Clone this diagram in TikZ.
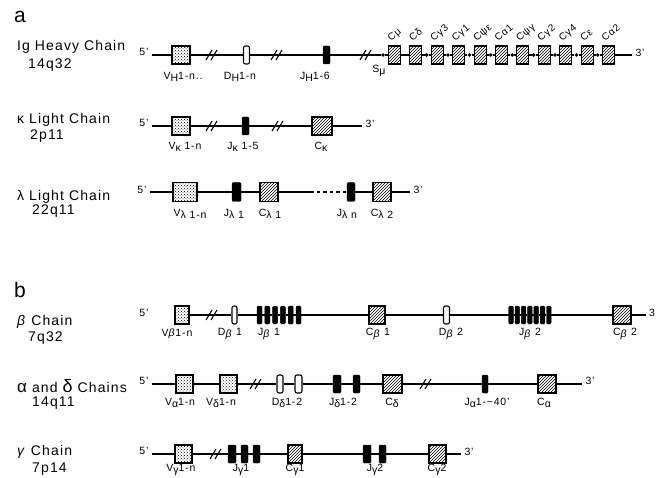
\documentclass[tikz,border=0pt]{standalone}
\usepackage{fontspec}
\setmainfont{Liberation Sans}[LetterSpace=8]
\usetikzlibrary{patterns}
\newcommand\subx[1]{\raisebox{-0.45ex}{#1}}
\begin{document}
\begin{tikzpicture}[x=1pt,y=-1pt,
  bb/.style={line width=1.05pt},
  vbox/.style={draw, line width=1.05pt, preaction={fill=white}, pattern=crosshatch dots, minimum width=18pt, minimum height=18pt, inner sep=0pt},
  cbox/.style={draw, line width=1.05pt, preaction={fill=white}, pattern=north east lines, minimum width=12pt, minimum height=18pt, inner sep=0pt},
  jbar/.style={draw, fill=black, rounded corners=1.2pt, minimum width=7pt, minimum height=18pt, inner sep=0pt},
  dbox/.style={draw, line width=1.05pt, fill=white, rounded corners=2pt, minimum width=6pt, minimum height=18pt, inner sep=0pt},
  bdot/.style={circle, fill=black, inner sep=0pt, minimum size=3.8pt},
  lab/.style={font=\fontsize{10.5}{12}\selectfont, inner sep=0pt},
  clab/.style={font=\fontsize{10}{11}\selectfont, inner sep=0pt, anchor=base west, rotate=40},
  endl/.style={font=\fontsize{10.5}{12}\selectfont, inner sep=3pt},
  chainlab/.style={font=\fontsize{14}{16}\selectfont, anchor=west, inner sep=0pt},
  panel/.style={font=\fontsize{21}{22}\selectfont, anchor=west, inner sep=0pt},
  brk/.pic={\draw[line width=1.05pt] (-6,5) -- (0,-5) (-1,5) -- (5,-5);}
]
\useasboundingbox (0,0) rectangle (660,478);

% ---------- panel a ----------
\node[panel] (pa) at (14,17) {a};

% Ig heavy chain
\node[chainlab] (hl1) at (17,47) {Ig Heavy Chain};
\node[chainlab] (hl2) at (28,65) {14q32};
\node[endl] (h5) at (144,52) {5'};
\node[vbox] (hv) at (181,55) {};
\coordinate (hk1) at (212,55);
\node[dbox] (hd) at (246.5,55) {};
\coordinate (hk2) at (277,55);
\node[jbar] (hj) at (326.5,55) {};
\coordinate (hk3) at (366,55);
\node[bdot] (hs) at (383,55) {};
\foreach \i in {1,...,11} \node[cbox] (hc\i) at ({394.5+21.4*(\i-1)},55) {};
\foreach \i in {3,...,11} \node[bdot] (hp\i) at ({383.8+21.4*(\i-1)},55) {};
\node[endl] (h3) at (640,53) {3'};
\draw[bb] (h5.east |- hv.west) -- (hv) -- (hk1) -- (hd) -- (hk2) -- (hj) -- (hk3) -- (hs) -- (hc1) -- (hc2);
\foreach \i [evaluate=\i as \j using int(\i-1)] in {3,...,11} \draw[bb] (hc\j) -- (hp\i) -- (hc\i);
\draw[bb] (hc11) -- (h3.west |- hc11.east);
\pic at (hk1) {brk};
\pic at (hk2) {brk};
\pic at (hk3) {brk};
\foreach \t [count=\i] in {Cμ,Cδ,Cγ3,Cγ1,Cψε,Cα1,Cψγ,Cγ2,Cγ4,Cε,Cα2}
  \node[clab] (ht\i) at ({391+21.4*(\i-1)},42) {\t};
\node[lab] (hvl) at (183,77) {V\subx{H}1-n..};
\node[lab] (hdl) at (240,77) {D\subx{H}1-n};
\node[lab] (hjl) at (315,77) {J\subx{H}1-6};
\node[lab] (hsl) at (379,71) {S\subx{μ}};

% kappa light chain
\node[chainlab] (kl1) at (17,120) {κ Light Chain};
\node[chainlab] (kl2) at (30,136) {2p11};
\node[endl] (k5) at (144,123) {5'};
\node[vbox] (kv) at (181,126) {};
\coordinate (kk1) at (212,126);
\node[jbar] (kj) at (245.5,126) {};
\coordinate (kk2) at (278,126);
\node[cbox, minimum width=20pt] (kc) at (322,126) {};
\node[endl] (k3) at (370,124) {3'};
\draw[bb] (k5.east |- kv.west) -- (kv) -- (kk1) -- (kj) -- (kk2) -- (kc) -- (k3.west |- kc.east);
\pic at (kk1) {brk};
\pic at (kk2) {brk};
\node[lab] (kvl) at (185,147) {V\subx{κ} 1-n};
\node[lab] (kjl) at (243,147) {J\subx{κ} 1-5};
\node[lab] (kcl) at (321,147) {C\subx{κ}};

% lambda light chain
\node[chainlab] (ll1) at (17,197) {λ Light Chain};
\node[chainlab] (ll2) at (32,211) {22q11};
\node[endl] (l5) at (142,190) {5'};
\node[vbox, minimum width=24pt, minimum height=19pt] (lv) at (185,192) {};
\node[jbar, minimum width=9pt, minimum height=19pt] (lj1) at (236.5,192) {};
\node[cbox, minimum width=18pt, minimum height=19pt] (lc1) at (269,192) {};
\coordinate (ldash) at (310,192);
\node[jbar, minimum width=8pt, minimum height=19pt] (ljn) at (351,192) {};
\node[cbox, minimum width=18pt, minimum height=19pt] (lc2) at (382,192) {};
\node[endl] (l3) at (418,190) {3'};
\draw[bb] (l5.east |- lv.west) -- (lv) -- (lj1) -- (lc1) -- (ldash);
\draw[bb, dash pattern=on 3.5pt off 3pt] (ldash) -- (ljn);
\draw[bb] (ljn) -- (lc2) -- (l3.west |- lc2.east);
\node[lab] (lvl) at (190,214) {V\subx{λ 1-n}};
\node[lab] (lj1l) at (234,214) {J\subx{λ 1}};
\node[lab] (lc1l) at (270,214) {C\subx{λ 1}};
\node[lab] (ljnl) at (347,214) {J\subx{λ n}};
\node[lab] (lc2l) at (382,214) {C\subx{λ 2}};

% ---------- panel b ----------
\node[panel] (pb) at (14,290) {b};

% beta chain
\node[chainlab] (bl1) at (17,322) {\textit{β} Chain};
\node[chainlab] (bl2) at (28,338) {7q32};
\node[endl] (b5) at (144,313) {5'};
\node[vbox, minimum width=14pt] (bv) at (182,315) {};
\coordinate (bk1) at (212,315);
\node[dbox, minimum width=5pt] (bd1) at (234.5,315) {};
\foreach \i in {1,...,6} \node[jbar, minimum width=5pt] (bja\i) at ({259.5+7.8*(\i-1)},315) {};
\node[cbox, minimum width=16pt] (bc1) at (377,315) {};
\node[dbox] (bd2) at (446.5,315) {};
\foreach \i in {1,...,7} \node[jbar, minimum width=4.6pt] (bjb\i) at ({511+6.3*(\i-1)},315) {};
\node[cbox, minimum width=18pt] (bc2) at (622,315) {};
\node[endl] (b3) at (652,313) {3};
\draw[bb] (bv) -- (bk1) -- (bd1) -- (bja1);
\foreach \i [evaluate=\i as \j using int(\i-1)] in {2,...,6} \draw[bb] (bja\j) -- (bja\i);
\draw[bb] (bja6) -- (bc1) -- (bd2) -- (bjb1);
\foreach \i [evaluate=\i as \j using int(\i-1)] in {2,...,7} \draw[bb] (bjb\j) -- (bjb\i);
\draw[bb] (bjb7) -- (bc2) -- (b3.west |- bc2.east);
\pic at (bk1) {brk};
\node[lab] (bvl) at (177,334) {V\textit{β}1-n};
\node[lab] (bd1l) at (230,334) {D\subx{\textit{β}} 1};
\node[lab] (bj1l) at (269,334) {J\subx{\textit{β}} 1};
\node[lab] (bc1l) at (378,334) {C\subx{\textit{β}} 1};
\node[lab] (bd2l) at (451,334) {D\subx{\textit{β}} 2};
\node[lab] (bj2l) at (530,334) {J\subx{\textit{β}} 2};
\node[lab] (bc2l) at (625,334) {C\subx{\textit{β}} 2};

% alpha and delta chains
\node[chainlab] (al1) at (17,386) {{\fontsize{17}{17}\selectfont α} and {\fontsize{18}{18}\selectfont δ} Chains};
\node[chainlab] (al2) at (32,403) {14q11};
\node[endl] (a5) at (144,381) {5'};
\node[vbox, minimum width=17pt] (av) at (184.5,384) {};
\node[vbox, minimum width=17pt, pattern color=black!85] (adv) at (228.5,384) {};
\coordinate (ak1) at (256,384);
\node[dbox] (ad1) at (280,384) {};
\node[dbox, minimum width=7pt] (ad2) at (298.5,384) {};
\node[jbar, minimum width=8pt] (aj1) at (337,384) {};
\node[jbar] (aj2) at (356.5,384) {};
\node[cbox, minimum width=19pt] (acd) at (392.5,384) {};
\coordinate (ak2) at (426,384);
\node[jbar, minimum width=6pt] (aja) at (485,384) {};
\node[cbox, minimum width=18pt] (aca) at (547,384) {};
\node[endl] (a3) at (590,381) {3'};
\draw[bb] (a5.east |- av.west) -- (av) -- (adv) -- (ak1) -- (ad1) -- (ad2) -- (aj1) -- (aj2) -- (acd) -- (ak2) -- (aja) -- (aca) -- (a3.west |- aca.east);
\pic at (ak1) {brk};
\pic at (ak2) {brk};
\node[lab] (avl) at (180,403) {V\subx{α}1-n};
\node[lab] (advl) at (221,403) {V\subx{δ}1-n};
\node[lab] (ad1l) at (287,403) {D\subx{δ}1-2};
\node[lab] (ajl) at (343,403) {J\subx{δ}1-2};
\node[lab] (acdl) at (392,403) {C\subx{δ}};
\node[lab] (ajal) at (487,403) {J\subx{α}1-\textasciitilde40'};
\node[lab] (acal) at (544,403) {C\subx{α}};

% gamma chain
\node[chainlab] (gl1) at (17,452) {\textit{γ} Chain};
\node[chainlab] (gl2) at (32,469) {7p14};
\node[endl] (g5) at (144,451) {5'};
\node[vbox, minimum width=17pt] (gv) at (183.5,454) {};
\coordinate (gk1) at (216,454);
\node[jbar, minimum width=8pt] (gj1) at (232,454) {};
\node[jbar] (gj2) at (244.5,454) {};
\node[jbar] (gj3) at (256.5,454) {};
\node[cbox, minimum width=14pt] (gc1) at (295,454) {};
\node[jbar, minimum width=8pt] (gj4) at (367,454) {};
\node[jbar] (gj5) at (382.5,454) {};
\node[cbox, minimum width=17pt] (gc2) at (437.5,454) {};
\node[endl] (g3) at (469,452) {3'};
\draw[bb] (g5.east |- gv.west) -- (gv) -- (gk1) -- (gj1) -- (gj2) -- (gj3) -- (gc1) -- (gj4) -- (gj5) -- (gc2) -- (g3.west |- gc2.east);
\pic at (gk1) {brk};
\node[lab] (gvl) at (181,470) {V\subx{γ}1-n};
\node[lab] (gjl) at (241,470) {J\subx{γ}1};
\node[lab] (gc1l) at (295,470) {C\subx{γ}1};
\node[lab] (gj2l) at (375,470) {J\subx{γ}2};
\node[lab] (gc2l) at (437,470) {C\subx{γ}2};
\end{tikzpicture}
\end{document}
